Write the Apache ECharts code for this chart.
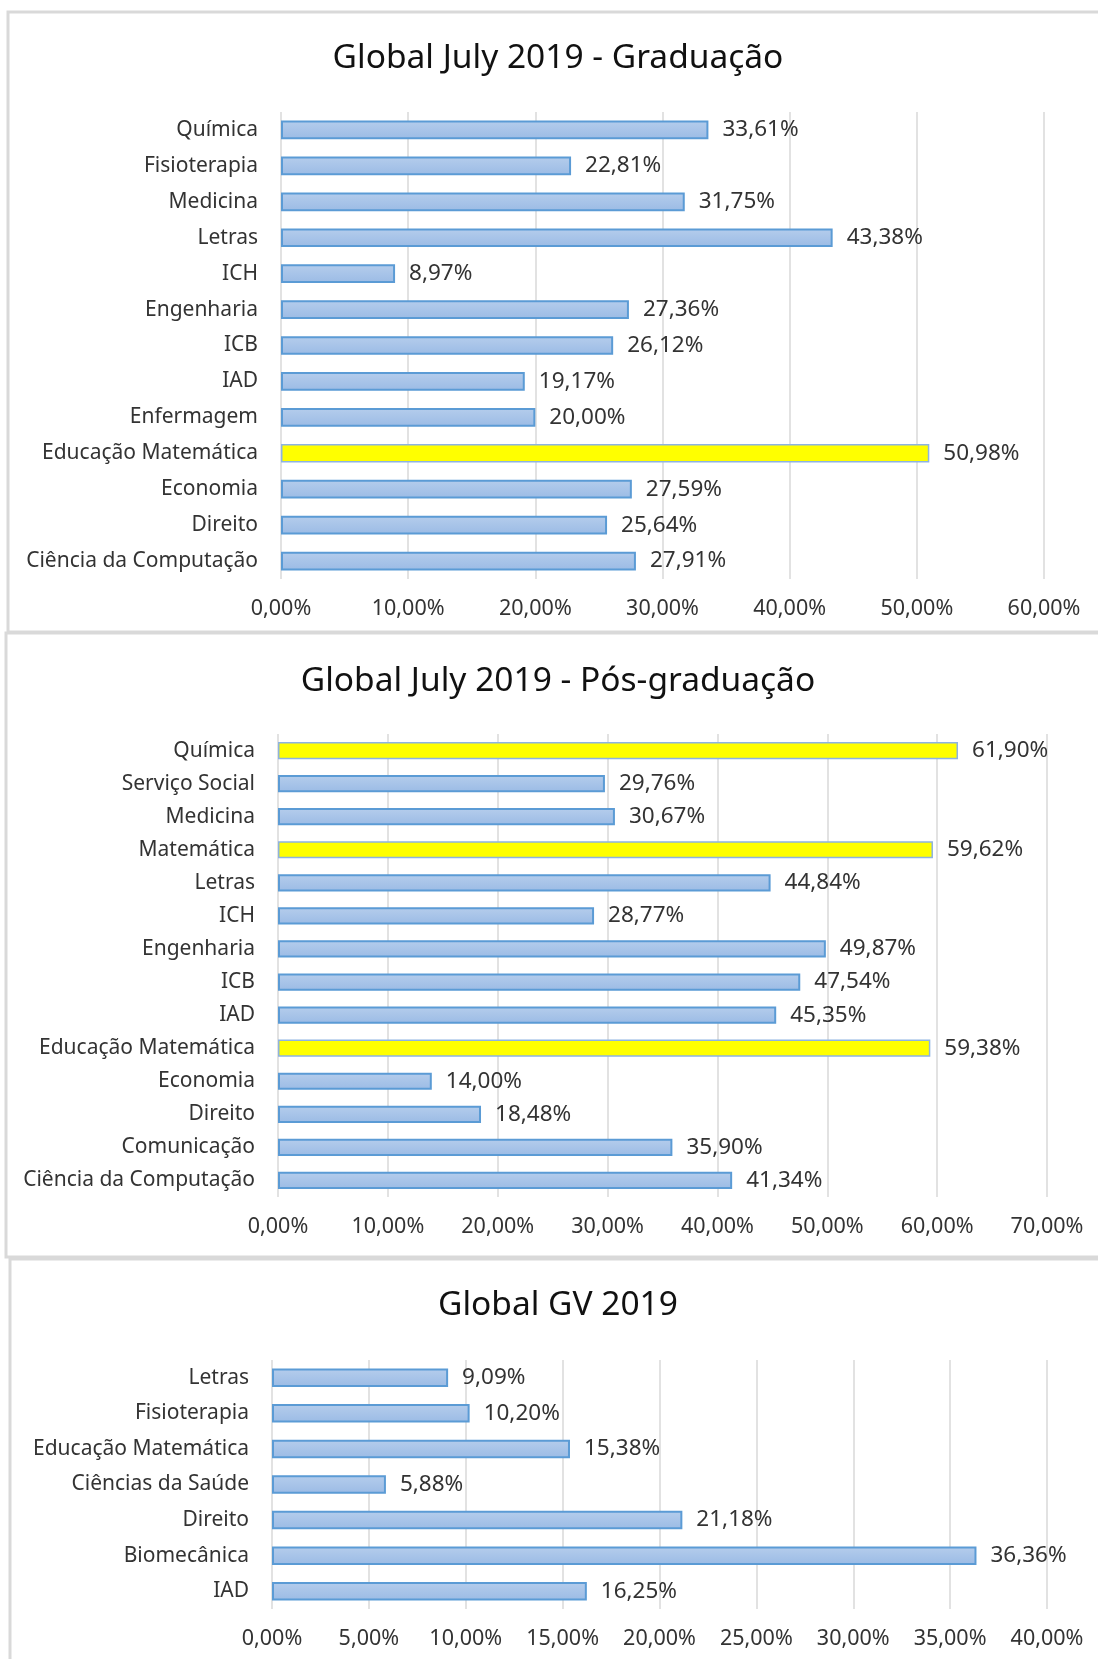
<!DOCTYPE html>
<html><head><meta charset="utf-8">
<script src="https://cdn.jsdelivr.net/npm/echarts@6/dist/echarts.min.js"></script>
<style>html,body{margin:0;padding:0;background:#fff;}#c{width:1098px;height:1659px;}</style>
</head><body><div id="c"></div>
<script>
// ---- Data ----
const title1 = 'Global July 2019 - Graduação';
const cats1 = ['Química','Fisioterapia','Medicina','Letras','ICH','Engenharia','ICB','IAD','Enfermagem','Educação Matemática','Economia','Direito','Ciência da Computação'];
const vals1 = [33.61,22.81,31.75,43.38,8.97,27.36,26.12,19.17,20.00,50.98,27.59,25.64,27.91];
const highlight1 = ['Educação Matemática'];
const ticks1 = {min:0, max:60, interval:10};

const title2 = 'Global July 2019 - Pós-graduação';
const cats2 = ['Química','Serviço Social','Medicina','Matemática','Letras','ICH','Engenharia','ICB','IAD','Educação Matemática','Economia','Direito','Comunicação','Ciência da Computação'];
const vals2 = [61.90,29.76,30.67,59.62,44.84,28.77,49.87,47.54,45.35,59.38,14.00,18.48,35.90,41.34];
const highlight2 = ['Química','Matemática','Educação Matemática'];
const ticks2 = {min:0, max:70, interval:10};

const title3 = 'Global GV 2019';
const cats3 = ['Letras','Fisioterapia','Educação Matemática','Ciências da Saúde','Direito','Biomecânica','IAD'];
const vals3 = [9.09,10.20,15.38,5.88,21.18,36.36,16.25];
const highlight3 = [];
const ticks3 = {min:0, max:40, interval:5};

// ---- Styles ----
const FONT = '"Noto Sans", sans-serif';
const labelColor = '#333333';
const blueFill = new echarts.graphic.LinearGradient(0,0,0,1,[{offset:0,color:'#b5cdec'},{offset:1,color:'#9bbbe5'}]);
const fmt = v => v.toFixed(2).replace('.', ',') + '%';

const grids = [
  {left:281, top:112, width:763, height:467},
  {left:278, top:734, width:769, height:463},
  {left:272, top:1360, width:775, height:249}
];
const sets = [
  {cats:cats1, vals:vals1, hl:highlight1, t:ticks1},
  {cats:cats2, vals:vals2, hl:highlight2, t:ticks2},
  {cats:cats3, vals:vals3, hl:highlight3, t:ticks3}
];
const titles = [[title1,55],[title2,678],[title3,1302]];

const option = {
  animation:false,
  backgroundColor:'#ffffff',
  graphic:[
    {type:'rect', z:-10, shape:{x:8,y:12,width:1200,height:620}, style:{fill:'#fff',stroke:'#d9d9d9',lineWidth:3}},
    {type:'rect', z:-10, shape:{x:6,y:633,width:1200,height:624}, style:{fill:'#fff',stroke:'#d9d9d9',lineWidth:3}},
    {type:'rect', z:-10, shape:{x:10,y:1259,width:1200,height:500}, style:{fill:'#fff',stroke:'#d9d9d9',lineWidth:3}}
  ],
  title: titles.map(([t,y]) => ({
    text:t, left:558, top:y-14, textAlign:'center', padding:0,
    textStyle:{fontFamily:FONT, fontSize:33.5, fontWeight:'normal', color:'#111111'}
  })),
  grid: grids.map(g => Object.assign({containLabel:false}, g)),
  xAxis: sets.map((s,i) => ({
    type:'value', gridIndex:i, min:s.t.min, max:s.t.max, interval:s.t.interval,
    axisLine:{show:false}, axisTick:{show:false},
    splitLine:{show:true, lineStyle:{color:'#d9d9d9', width:1.5}},
    axisLabel:{fontFamily:FONT, fontSize:21.5, color:labelColor, margin:19, formatter:v=>fmt(v)}
  })),
  yAxis: sets.map((s,i) => ({
    type:'category', gridIndex:i, data:s.cats, inverse:true,
    axisLine:{show:false}, axisTick:{show:false},
    axisLabel:{fontFamily:FONT, fontSize:21, color:labelColor, margin:23}
  })),
  series: sets.map((s,i) => ({
    type:'bar', xAxisIndex:i, yAxisIndex:i, barCategoryGap:'48%',
    data: s.vals.map((v,j) => {
      const y = s.hl.includes(s.cats[j]);
      return {value:v, itemStyle: y ? {color:'#ffff00', borderColor:'#8db3e2', borderWidth:1.5}
                                     : {color:blueFill, borderColor:'#5b9bd5', borderWidth:2}};
    }),
    label:{show:true, position:'right', distance:14, fontFamily:FONT, fontSize:22.5, color:labelColor, formatter:p=>fmt(p.value)}
  }))
};
echarts.init(document.getElementById('c'), null, {renderer:'canvas'}).setOption(option);
</script></body></html>
